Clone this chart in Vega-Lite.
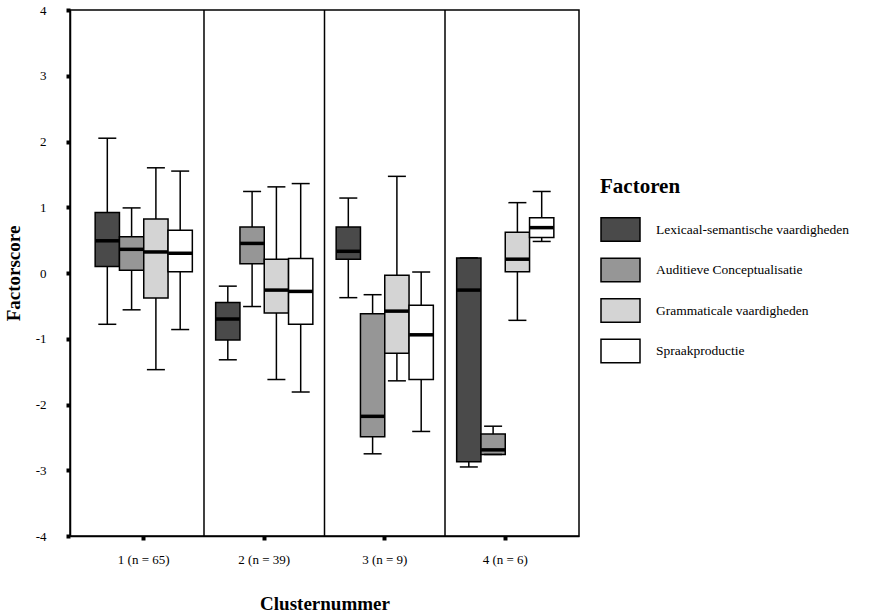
{
  "$schema": "https://vega.github.io/schema/vega-lite/v6.json",
  "autosize": "none",
  "padding": {"left": 70, "top": 10, "right": 291, "bottom": 80},
  "width": 509,
  "height": 526,
  "background": "white",
  "config": {
    "view": {"stroke": "black", "strokeWidth": 1.5},
    "font": "Liberation Serif",
    "axis": {"grid": false, "domainColor": "black", "domainWidth": 1.5, "tickColor": "black", "tickWidth": 4, "tickSize": 4, "labelFont": "Liberation Serif", "labelFontSize": 13, "labelColor": "black", "titleFont": "Liberation Serif", "titleFontSize": 19, "titleFontWeight": "bold", "titleColor": "black"}
  },
  "datasets": {
    "boxes": [
      {"cluster": "1 (n = 65)", "factor": "Lexicaal-semantische vaardigheden", "lo": -0.78, "q1": 0.10, "med": 0.49, "q3": 0.92, "hi": 2.05},
      {"cluster": "1 (n = 65)", "factor": "Auditieve Conceptualisatie", "lo": -0.56, "q1": 0.04, "med": 0.36, "q3": 0.55, "hi": 0.99},
      {"cluster": "1 (n = 65)", "factor": "Grammaticale vaardigheden", "lo": -1.47, "q1": -0.38, "med": 0.32, "q3": 0.82, "hi": 1.60},
      {"cluster": "1 (n = 65)", "factor": "Spraakproductie", "lo": -0.86, "q1": 0.02, "med": 0.30, "q3": 0.65, "hi": 1.55},
      {"cluster": "2 (n = 39)", "factor": "Lexicaal-semantische vaardigheden", "lo": -1.32, "q1": -1.02, "med": -0.70, "q3": -0.45, "hi": -0.20},
      {"cluster": "2 (n = 39)", "factor": "Auditieve Conceptualisatie", "lo": -0.51, "q1": 0.14, "med": 0.45, "q3": 0.70, "hi": 1.24},
      {"cluster": "2 (n = 39)", "factor": "Grammaticale vaardigheden", "lo": -1.62, "q1": -0.61, "med": -0.26, "q3": 0.21, "hi": 1.31},
      {"cluster": "2 (n = 39)", "factor": "Spraakproductie", "lo": -1.81, "q1": -0.78, "med": -0.28, "q3": 0.22, "hi": 1.36},
      {"cluster": "3 (n = 9)", "factor": "Lexicaal-semantische vaardigheden", "lo": -0.375, "q1": 0.21, "med": 0.33, "q3": 0.70, "hi": 1.14},
      {"cluster": "3 (n = 9)", "factor": "Auditieve Conceptualisatie", "lo": -2.75, "q1": -2.49, "med": -2.18, "q3": -0.62, "hi": -0.33},
      {"cluster": "3 (n = 9)", "factor": "Grammaticale vaardigheden", "lo": -1.64, "q1": -1.22, "med": -0.58, "q3": -0.035, "hi": 1.47},
      {"cluster": "3 (n = 9)", "factor": "Spraakproductie", "lo": -2.41, "q1": -1.62, "med": -0.94, "q3": -0.49, "hi": 0.015},
      {"cluster": "4 (n = 6)", "factor": "Lexicaal-semantische vaardigheden", "lo": -2.95, "q1": -2.87, "med": -0.26, "q3": 0.23, "hi": 0.23},
      {"cluster": "4 (n = 6)", "factor": "Auditieve Conceptualisatie", "lo": -2.76, "q1": -2.76, "med": -2.69, "q3": -2.45, "hi": -2.33},
      {"cluster": "4 (n = 6)", "factor": "Grammaticale vaardigheden", "lo": -0.72, "q1": 0.02, "med": 0.21, "q3": 0.62, "hi": 1.07},
      {"cluster": "4 (n = 6)", "factor": "Spraakproductie", "lo": 0.48, "q1": 0.54, "med": 0.69, "q3": 0.84, "hi": 1.24}
    ],
    "seps": [
      {"cluster": "1 (n = 65)"},
      {"cluster": "2 (n = 39)"},
      {"cluster": "3 (n = 9)"}
    ]
  },
  "layer": [
    {
      "data": {"name": "seps"},
      "mark": {"type": "rule", "color": "black", "strokeWidth": 1.5},
      "encoding": {
        "x": {"field": "cluster", "type": "nominal", "bandPosition": 1}
      }
    },
    {
      "data": {"name": "boxes"},
      "layer": [
        {
          "mark": {"type": "rule", "color": "black", "strokeWidth": 1.5},
          "encoding": {
            "y": {"field": "lo", "type": "quantitative"},
            "y2": {"field": "hi"}
          }
        },
        {
          "mark": {"type": "bar", "stroke": "black", "strokeWidth": 1.5, "opacity": 1},
          "encoding": {
            "y": {"field": "q1", "type": "quantitative"},
            "y2": {"field": "q3"},
            "color": {
              "field": "factor", "type": "nominal",
              "scale": {"domain": ["Lexicaal-semantische vaardigheden", "Auditieve Conceptualisatie", "Grammaticale vaardigheden", "Spraakproductie"], "range": ["#4a4a4a", "#969696", "#d4d4d4", "#ffffff"]},
              "legend": {
                "title": "Factoren", "orient": "none", "legendX": 530, "legendY": 166,
                "titleFont": "Liberation Serif", "titleFontSize": 21, "titleFontWeight": "bold", "titleColor": "black", "titlePadding": 12,
                "labelFont": "Liberation Serif", "labelFontSize": 13.5, "labelColor": "black", "labelOffset": 15, "labelLimit": 400,
                "symbolType": "M-1,-0.6H1V0.6H-1Z", "symbolSize": 1521, "symbolStrokeColor": "black", "symbolStrokeWidth": 1.5, "symbolOpacity": 1,
                "rowPadding": 4.5
              }
            }
          }
        },
        {
          "mark": {"type": "tick", "color": "black", "thickness": 3.5, "size": 24, "opacity": 1},
          "encoding": {"y": {"field": "med", "type": "quantitative"}}
        },
        {
          "mark": {"type": "tick", "color": "black", "thickness": 1.5, "size": 18, "opacity": 1},
          "encoding": {"y": {"field": "lo", "type": "quantitative"}}
        },
        {
          "mark": {"type": "tick", "color": "black", "thickness": 1.5, "size": 18, "opacity": 1},
          "encoding": {"y": {"field": "hi", "type": "quantitative"}}
        }
      ],
      "encoding": {
        "xOffset": {"field": "factor", "type": "nominal", "sort": ["Lexicaal-semantische vaardigheden", "Auditieve Conceptualisatie", "Grammaticale vaardigheden", "Spraakproductie"], "scale": {"paddingInner": 0, "paddingOuter": 0.48}}
      }
    }
  ],
  "encoding": {
    "x": {"field": "cluster", "type": "nominal", "title": "Clusternummer", "scale": {"domain": ["1 (n = 65)", "2 (n = 39)", "3 (n = 9)", "4 (n = 6)"], "paddingInner": 0, "paddingOuter": 0.112}, "axis": {"labelAngle": 0, "labelPadding": 13, "titlePadding": 28}},
    "y": {"type": "quantitative", "scale": {"domain": [-4, 4], "nice": false, "zero": false}, "title": "Factorscore", "axis": {"values": [-4, -3, -2, -1, 0, 1, 2, 3, 4], "labelExpr": "'' + datum.value", "labelPadding": 20, "titlePadding": 12}}
  },
  "resolve": {"scale": {"y": "shared"}}
}
